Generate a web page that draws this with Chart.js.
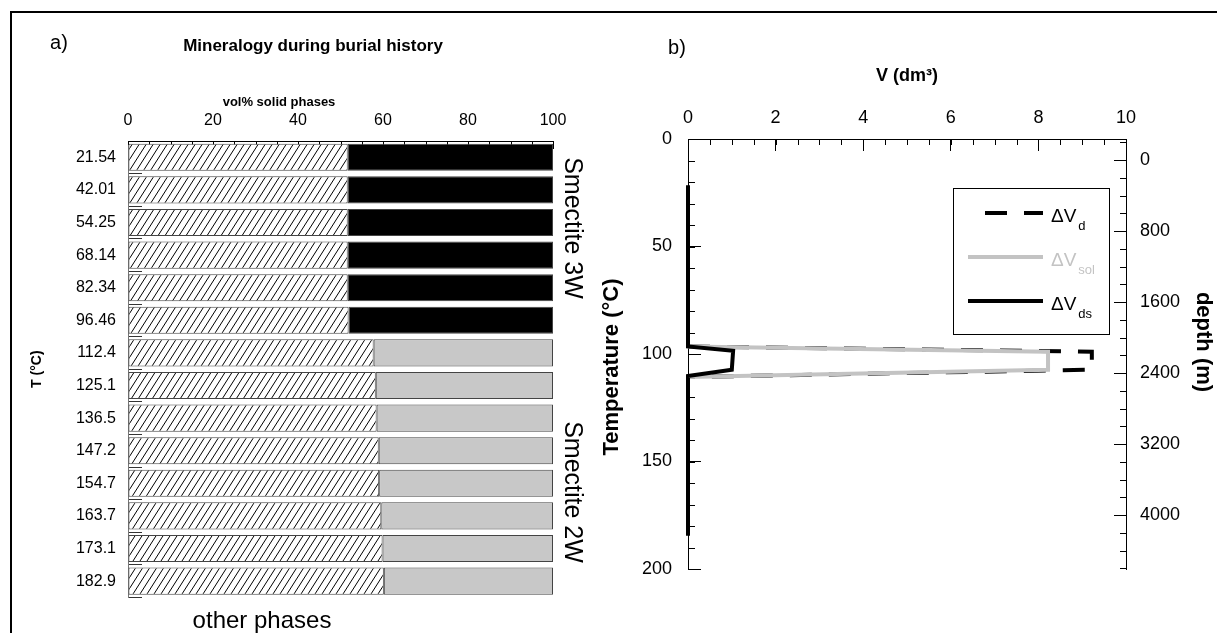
<!DOCTYPE html>
<html>
<head>
<meta charset="utf-8">
<script src="https://cdn.jsdelivr.net/npm/chart.js@4.4.1/dist/chart.umd.min.js"></script>
<style>
    body { margin: 0; background: #fff; }
    #page { position: relative; width: 1217px; height: 633px; overflow: hidden; }
    #frame { position: absolute; left: 10px; top: 11px; right: -5px; bottom: -5px;
             border-left: 2px solid #000; border-top: 2px solid #000; }
    canvas { position: absolute; top: 0; }
</style>
</head>
<body>
<div id="page">
    <div id="frame"></div>
    <canvas id="mineralChart" width="600" height="633" style="left:0"></canvas>
    <canvas id="volumeChart" width="617" height="633" style="left:600px"></canvas>
</div>
<script>
const FONT = "'Liberation Sans', Arial, Helvetica, sans-serif";

// a) mineralogy during burial history (vol% solid phases)
const tempLabels = ["21.54", "42.01", "54.25", "68.14", "82.34", "96.46", "112.4",
    "125.1", "136.5", "147.2", "154.7", "163.7", "173.1", "182.9"];
const otherPhases = [51.7, 51.7, 51.7, 51.7, 51.7, 51.9, 57.8, 58.3, 58.5, 59.0, 59.1, 59.6, 59.9, 60.2];
const smectite3W = [48.3, 48.3, 48.3, 48.3, 48.3, 48.1, null, null, null, null, null, null, null, null];
const smectite2W = [null, null, null, null, null, null, 42.2, 41.7, 41.5, 41.0, 40.9, 40.4, 40.1, 39.8];

// b) volume change V (dm3) against temperature (°C)
const dTemp = [96.5, 98.9, 107.3, 110.7];
const dVol = [0, 9.22, 9.22, 0];
const solTemp = [96.5, 98.9, 107.3, 110.7];
const solVol = [0, 8.22, 8.22, 0];
const dsTemp = [21.54, 96.46, 98.5, 107.3, 110.2, 184.5];
const dsVol = [0, 0, 1.03, 1.0, 0, 0];
const depthTicks = [0, 800, 1600, 2400, 3200, 4000];

/**
 * Builds the "/" hatch used for the other phases bars.
 */
function makeHatch(ctx) {
    const c = document.createElement("canvas");
    c.width = 7;
    c.height = 11;
    const g = c.getContext("2d");
    g.fillStyle = "#fff";
    g.fillRect(0, 0, 7, 11);
    g.strokeStyle = "#000";
    g.lineWidth = 1;
    g.beginPath();
    for (const dx of [-7, 0, 7]) {
        g.moveTo(dx, 11);
        g.lineTo(dx + 7, 0);
    }
    g.stroke();
    return ctx.createPattern(c, "repeat");
}

/**
 * Short minor tick marks drawn inside the plot along an axis.
 */
function makeTickMarks(marks) {
    return {
        id: "tickMarks",
        beforeDatasetsDraw(chart) {
            const { ctx, chartArea } = chart;
            ctx.save();
            ctx.strokeStyle = "#000";
            ctx.lineWidth = 1;
            ctx.beginPath();
            marks.forEach((m) => {
                const s = chart.scales[m.scale];
                for (let v = m.from; v <= m.to + 1e-6; v += m.step) {
                    const p = Math.round(s.getPixelForValue(v)) + 0.5;
                    if (s.isHorizontal()) {
                        ctx.moveTo(p, chartArea.top);
                        ctx.lineTo(p, chartArea.top + m.len);
                    } else if (s.position === "left") {
                        ctx.moveTo(chartArea.left, p);
                        ctx.lineTo(chartArea.left + m.len, p);
                    } else {
                        ctx.moveTo(chartArea.right, p);
                        ctx.lineTo(chartArea.right - m.len, p);
                    }
                }
            });
            ctx.stroke();
            ctx.restore();
        },
    };
}

/**
 * Free text (panel letters, titles, rotated annotations).
 */
function makeLabels(items) {
    return {
        id: "labels",
        afterDraw(chart) {
            const ctx = chart.ctx;
            items.forEach((t) => {
                ctx.save();
                ctx.translate(t.x, t.y);
                if (t.rot) ctx.rotate(t.rot);
                ctx.font = t.font + " " + FONT;
                ctx.fillStyle = "#000";
                ctx.textAlign = "center";
                ctx.textBaseline = "middle";
                ctx.fillText(t.text, 0, 0);
                ctx.restore();
            });
        },
    };
}

/**
 * Boxed legend with subscripted labels, styled from the datasets.
 */
function makeLegendBox(box) {
    return {
        id: "legendBox",
        afterDraw(chart) {
            const ctx = chart.ctx;
            ctx.save();
            ctx.strokeStyle = "#000";
            ctx.lineWidth = 1;
            ctx.strokeRect(box.left + 0.5, box.top + 0.5, box.width, box.height);
            chart.data.datasets.forEach((ds, i) => {
                const y = box.top + box.rowTop + i * box.rowGap;
                ctx.beginPath();
                ctx.lineWidth = ds.borderWidth;
                ctx.strokeStyle = ds.borderColor;
                ctx.setLineDash(ds.borderDash || []);
                ctx.lineDashOffset = ds.borderDash ? ds.borderDash[0] : 0;
                ctx.moveTo(box.left + 15, y);
                ctx.lineTo(box.left + 90, y);
                ctx.stroke();
                ctx.setLineDash([]);
                const [main, sub] = ds.label.split("_");
                ctx.fillStyle = ds.borderColor;
                ctx.textBaseline = "middle";
                ctx.textAlign = "left";
                ctx.font = "19px " + FONT;
                ctx.fillText(main, box.left + 98, y + 4);
                const w = ctx.measureText(main).width;
                ctx.font = "13px " + FONT;
                ctx.fillText(sub, box.left + 100 + w, y + 13);
            });
            ctx.restore();
        },
    };
}

const toPoints = (xs, ys) => xs.map((x, i) => ({ x: x, y: ys[i] }));

const mineralCtx = document.getElementById("mineralChart").getContext("2d");

new Chart(mineralCtx, {
    type: "bar",
    data: {
        labels: tempLabels,
        datasets: [
            { label: "other phases", data: otherPhases, backgroundColor: makeHatch(mineralCtx) },
            { label: "Smectite 3W", data: smectite3W, backgroundColor: "#000" },
            { label: "Smectite 2W", data: smectite2W, backgroundColor: "#c8c8c8" },
        ],
    },
    options: {
        indexAxis: "y",
        responsive: false,
        animation: false,
        devicePixelRatio: 1,
        layout: { padding: { left: 0, top: 0, right: 47, bottom: 29.5 } },
        datasets: {
            bar: {
                categoryPercentage: 1,
                barPercentage: 0.83,
                borderColor: "#444",
                borderWidth: 1,
                borderSkipped: false,
            },
        },
        plugins: { legend: { display: false }, tooltip: { enabled: false } },
        scales: {
            x: {
                position: "top",
                stacked: true,
                min: 0,
                max: 100,
                ticks: { stepSize: 20, color: "#000", font: { family: FONT, size: 16 }, padding: 18.4 },
                grid: { drawOnChartArea: false, tickLength: -8, color: "#000" },
                border: { color: "#000" },
                afterFit: (s) => { s.height = 141; },
            },
            y: {
                stacked: true,
                ticks: { color: "#000", font: { family: FONT, size: 16 }, padding: 26, autoSkip: false },
                grid: { drawOnChartArea: false, tickLength: -14, color: "#333", offset: true },
                border: { color: "#777" },
                title: {
                    display: true,
                    text: "T (°C)",
                    color: "#000",
                    font: { family: FONT, size: 14, weight: "bold" },
                    padding: { top: 28.6, bottom: 0 },
                },
                afterFit: (s) => { s.width = 128; },
            },
        },
    },
    plugins: [
        makeTickMarks([{ scale: "x", from: 0, to: 100, step: 5, len: 4 }]),
        makeLabels([
            { text: "a)", x: 59, y: 43, font: "20px" },
            { text: "Mineralogy during burial history", x: 313, y: 46, font: "bold 17px" },
            { text: "vol% solid phases", x: 279, y: 102, font: "bold 13px" },
            { text: "other phases", x: 262, y: 621, font: "24px" },
            { text: "Smectite 3W", x: 572, y: 228, rot: Math.PI / 2, font: "25px" },
            { text: "Smectite 2W", x: 572, y: 492, rot: Math.PI / 2, font: "25px" },
        ]),
    ],
});

new Chart(document.getElementById("volumeChart").getContext("2d"), {
    type: "scatter",
    data: {
        datasets: [
            {
                label: "ΔV_d",
                data: toPoints(dVol, dTemp),
                borderColor: "#000",
                borderWidth: 4,
                borderDash: [22, 17],
                order: 2,
            },
            {
                label: "ΔV_sol",
                data: toPoints(solVol, solTemp),
                borderColor: "#c3c3c3",
                borderWidth: 4,
                order: 1,
            },
            {
                label: "ΔV_ds",
                data: toPoints(dsVol, dsTemp),
                borderColor: "#000",
                borderWidth: 4,
                order: 0,
            },
        ],
    },
    options: {
        responsive: false,
        animation: false,
        devicePixelRatio: 1,
        layout: { padding: { left: 0, top: 0, right: 0, bottom: 64 } },
        datasets: {
            scatter: { showLine: true, pointRadius: 0, tension: 0, clip: false },
        },
        plugins: { legend: { display: false }, tooltip: { enabled: false } },
        scales: {
            x: {
                type: "linear",
                position: "top",
                min: 0,
                max: 10,
                ticks: { stepSize: 2, color: "#000", font: { family: FONT, size: 18 }, padding: 22.2 },
                grid: { drawOnChartArea: false, tickLength: -12, color: "#000" },
                border: { color: "#000" },
                title: {
                    display: true,
                    text: "V (dm³)",
                    color: "#000",
                    font: { family: FONT, size: 18, weight: "bold" },
                    padding: { top: 65.2, bottom: 0 },
                },
                afterFit: (s) => { s.height = 139; },
            },
            y: {
                type: "linear",
                position: "left",
                reverse: true,
                min: 0,
                max: 200,
                ticks: { stepSize: 50, color: "#000", font: { family: FONT, size: 18 }, padding: 29 },
                grid: { drawOnChartArea: false, tickLength: -13, color: "#000" },
                border: { color: "#000" },
                afterFit: (s) => { s.width = 88; },
            },
            y2: {
                type: "linear",
                position: "right",
                reverse: true,
                min: -237,
                max: 4608,
                afterBuildTicks: (s) => { s.ticks = depthTicks.map((v) => ({ value: v })); },
                ticks: { color: "#000", font: { family: FONT, size: 18 }, padding: 26, callback: (v) => String(v) },
                grid: { drawOnChartArea: false, tickLength: -12, color: "#000" },
                border: { color: "#000" },
                afterFit: (s) => { s.width = 91; },
            },
        },
    },
    plugins: [
        makeTickMarks([
            { scale: "x", from: 0, to: 10, step: 0.5, len: 6 },
            { scale: "y", from: 0, to: 200, step: 10, len: 7 },
            { scale: "y2", from: -200, to: 4600, step: 200, len: 6 },
        ]),
        makeLabels([
            { text: "b)", x: 77, y: 48, font: "20px" },
            { text: "Temperature (°C)", x: 12, y: 367, rot: -Math.PI / 2, font: "bold 22px" },
            { text: "depth (m)", x: 603, y: 342, rot: Math.PI / 2, font: "bold 22px" },
        ]),
        makeLegendBox({ left: 353, top: 188, width: 156, height: 146, rowTop: 25, rowGap: 44 }),
    ],
});
</script>
</body>
</html>
